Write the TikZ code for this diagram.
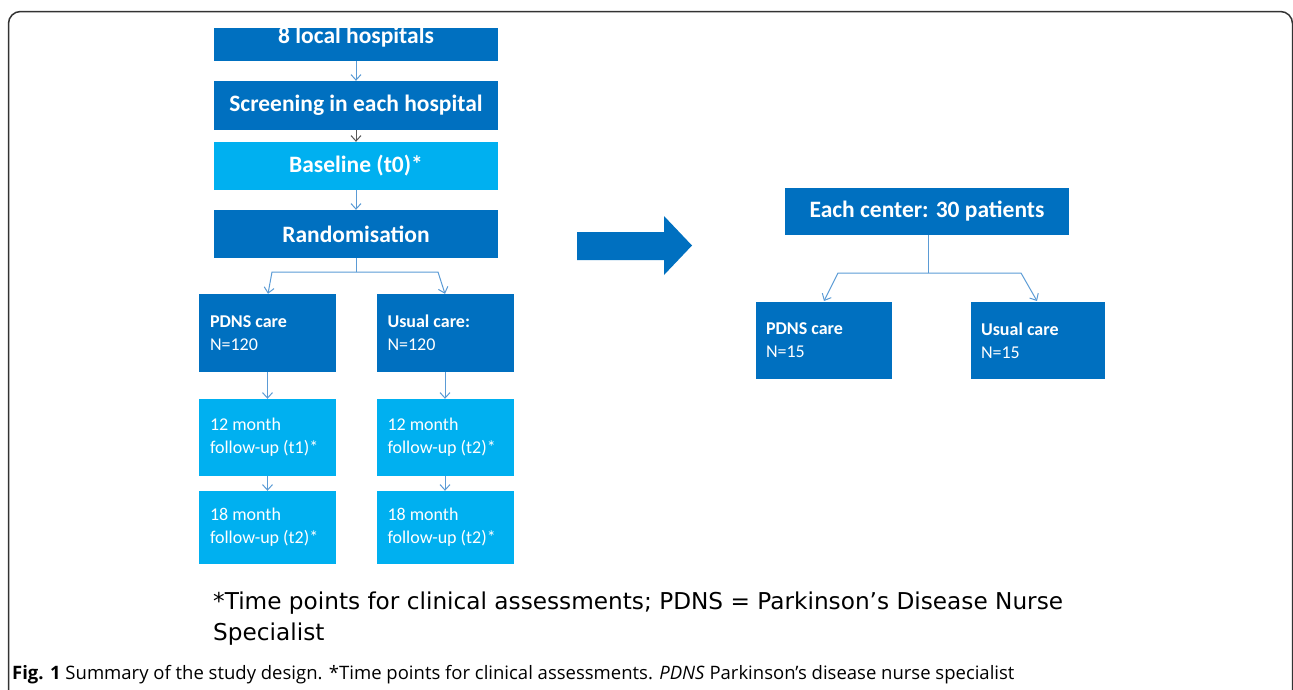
\documentclass[tikz,border=0pt]{standalone}
\usepackage{fontspec}
\setmainfont{Carlito}
\newfontfamily\notefont{DejaVu Sans}
\newfontfamily\capfont{Open Sans}
\usetikzlibrary{arrows.meta}
\definecolor{dblue}{HTML}{0070C0}
\definecolor{lblue}{HTML}{00B0F0}
\definecolor{lnblue}{HTML}{5B9BD5}
\definecolor{frame}{HTML}{333333}
\tikzset{
  boxbase/.style={draw=none, inner sep=0pt, text=white},
  bigfont/.style={font=\fontsize{23.5}{26}\selectfont\bfseries},
  bigbox/.style={boxbase, fill=dblue, minimum width=284pt, bigfont},
  bigboxl/.style={bigbox, fill=lblue},
  smallbox/.style={boxbase, fill=dblue, minimum width=137pt, minimum height=78pt, text width=115pt, align=flush left, font=\fontsize{18}{23}\selectfont},
  smallboxl/.style={smallbox, fill=lblue},
  conn/.style={draw=lnblue, line width=1pt, -{Straight Barb[length=5.5pt,width=10pt]}},
  connp/.style={draw=lnblue, line width=1pt},
}
\begin{document}
\begin{tikzpicture}[x=1pt,y=-1pt]
\useasboundingbox (0,0) rectangle (1293,689);
\begin{scope}
\clip (0,0) rectangle (1293,689);
\draw[frame, line width=1.5pt, rounded corners=12pt] (8.5,11.5) rectangle (1292.5,760);
\end{scope}
% left column
\node[bigbox, minimum height=33pt] (h1) at (356,44.5) {};
\node[boxbase, bigfont] (h1t) at (356,37) {8 local hospitals};
\node[bigbox, minimum height=49pt] (h2) at (356,105.5) {Screening in each hospital};
\node[bigboxl, minimum height=48pt] (h3) at (356,166) {Baseline (t0)*};
\node[bigbox, minimum height=48pt] (h4) at (356,234) {Randomisation};
\draw[conn] (h1) -- (h2);
\draw[conn, draw=black!65] (h2) -- (h3);
\draw[conn] (h3) -- (h4);
\node[smallbox] (p1) at (267.5,333) {\textbf{PDNS care}\\N=120};
\node[smallbox] (u1) at (445,333) {\textbf{Usual care:}\\N=120};
\node[smallboxl, minimum height=77pt] (p2) at (267.5,437.5) {12 month\\follow-up (t1)*};
\node[smallboxl, minimum height=77pt] (u2) at (445,437.5) {12 month\\follow-up (t2)*};
\node[smallboxl, minimum height=73pt] (p3) at (267.5,527.5) {18 month\\follow-up (t2)*};
\node[smallboxl, minimum height=73pt] (u3) at (445,527.5) {18 month\\follow-up (t2)*};
\coordinate (s1) at (356,272);
\coordinate (s1l) at (272,272);
\coordinate (s1r) at (438,272);
\draw[connp] (h4.south) -- (s1);
\draw[conn] (s1) -- (s1l) -- (p1.north -| 268,0);
\draw[conn] (s1) -- (s1r) -- (u1.north -| 445,0);
\draw[conn] (p1) -- (p2);
\draw[conn] (p2) -- (p3);
\draw[conn] (u1) -- (u2);
\draw[conn] (u2) -- (u3);
% big arrow
\fill[dblue] (577,232) -- (664,232) -- (664,216) -- (692,245.5) -- (664,275) -- (664,260) -- (577,260) -- cycle;
% right part
\node[bigbox, minimum width=284pt, minimum height=47pt] (c1) at (927,211.5) {Each center: 30 patients};
\node[smallbox, minimum width=136pt, minimum height=77pt, text width=116pt] (c2) at (824,340.5) {\textbf{PDNS care}\\N=15};
\node[smallbox, minimum width=134pt, minimum height=77pt, text width=114pt] (c3) at (1038,340.5) {\textbf{Usual care}\\N=15};
\coordinate (s2) at (928,273);
\coordinate (s2l) at (838,273);
\coordinate (s2r) at (1021,273);
\draw[connp] (c1.south -| 928,0) -- (s2);
\draw[conn] (s2) -- (s2l) -- (824,301);
\draw[conn] (s2) -- (s2r) -- (1037,301);
% footnote
\node[anchor=base west, inner sep=0pt, align=flush left, font=\notefont\fontsize{23.2}{31}\selectfont] (fn) at (213,640) {*Time points for clinical assessments; PDNS = Parkinson’s Disease Nurse\\Specialist};
% caption
\node[anchor=base west, inner sep=0pt, font=\capfont\fontsize{18.5}{22}\selectfont] (cap) at (12,679.5) {\textbf{Fig. 1} Summary of the study design. *Time points for clinical assessments. \textit{PDNS} Parkinson’s disease nurse specialist};
\end{tikzpicture}
\end{document}
